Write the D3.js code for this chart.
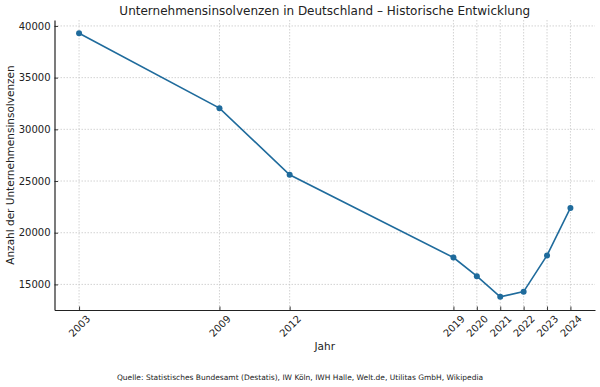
<!DOCTYPE html>
<html>
<head>
<meta charset="utf-8">
<script src="https://cdn.jsdelivr.net/npm/d3@7"></script>
<style>
  body { margin: 0; background: #fff; }
  svg text { font-family: "DejaVu Sans", sans-serif; fill: #222; }
  .grid line { stroke: #c8c8c8; stroke-width: 0.8; stroke-dasharray: 1.5,1.5; }
</style>
</head>
<body>
<svg id="chart" width="600" height="387"></svg>
<script>
/// data
var years = [2003, 2009, 2012, 2019, 2020, 2021, 2022, 2023, 2024];
var insolvencies = [39300, 32050, 25600, 17600, 15800, 13800, 14300, 17800, 22400];
var yTicks = [15000, 20000, 25000, 30000, 35000, 40000];

var titleText = "Unternehmensinsolvenzen in Deutschland \u2013 Historische Entwicklung",
    xLabel = "Jahr",
    yLabel = "Anzahl der Unternehmensinsolvenzen",
    sourceText = "Quelle: Statistisches Bundesamt (Destatis), IW K\u00f6ln, IWH Halle, Welt.de, Utilitas GmbH, Wikipedia";

/// layout
var margin = {top: 20, right: 5, bottom: 77, left: 54.5};
var W = 600, H = 387;
var w = W - margin.left - margin.right,
    h = H - margin.top - margin.bottom;

var svg = d3.select("#chart");
var g = svg.append("g")
           .attr("transform", "translate(" + margin.left + "," + margin.top + ")");

// matplotlib style 5% padding
var xPad = (d3.max(years) - d3.min(years)) * 0.05,
    yPad = (d3.max(insolvencies) - d3.min(insolvencies)) * 0.05;

var x = d3.scaleLinear()
          .domain([d3.min(years) - xPad, d3.max(years) + xPad])
          .range([0, w]);

var y = d3.scaleLinear()
          .domain([d3.min(insolvencies) - yPad, d3.max(insolvencies) + yPad])
          .range([h, 0]);

// grid
var grid = g.append("g").attr("class", "grid");
grid.selectAll()
    .data(yTicks)
    .enter()
    .append("line")
    .attr("x1", 0).attr("x2", w)
    .attr("y1", d => y(d)).attr("y2", d => y(d));
grid.selectAll()
    .data(years)
    .enter()
    .append("line")
    .attr("x1", d => x(d)).attr("x2", d => x(d))
    .attr("y1", 0).attr("y2", h);

// axes, ticks pointing inward
var xAxis = g.append("g")
             .attr("transform", "translate(0," + h + ")")
             .call(d3.axisBottom(x).tickValues(years).tickFormat(d3.format("d"))
                     .tickSizeInner(-3.5).tickSizeOuter(0));
xAxis.select(".domain").attr("stroke", "#222").attr("stroke-width", 1.2);
xAxis.selectAll(".tick line").attr("stroke", "#222").attr("stroke-width", 0.9);
xAxis.selectAll(".tick text")
     .attr("y", 0).attr("dy", null)
     .attr("text-anchor", "middle")
     .attr("dominant-baseline", "central")
     .attr("transform", "translate(0,16) rotate(-45)")
     .style("font-size", "10px");

var yAxis = g.append("g")
             .call(d3.axisLeft(y).tickValues(yTicks).tickFormat(d3.format("d"))
                     .tickSizeInner(-3.5).tickSizeOuter(0).tickPadding(4));
yAxis.select(".domain").attr("stroke", "#222").attr("stroke-width", 1.2);
yAxis.selectAll(".tick line").attr("stroke", "#222").attr("stroke-width", 0.9);
yAxis.selectAll(".tick text").attr("x", -4).style("font-size", "10px");

// series
var pts = years.map((d, i) => ({year: d, value: insolvencies[i]}));
var lineColor = "#1f6b9c";

g.append("path")
 .datum(pts)
 .attr("fill", "none")
 .attr("stroke", lineColor)
 .attr("stroke-width", 1.6)
 .attr("d", d3.line().x(d => x(d.year)).y(d => y(d.value)));

g.selectAll()
 .data(pts)
 .enter()
 .append("circle")
 .attr("cx", d => x(d.year))
 .attr("cy", d => y(d.value))
 .attr("r", 3)
 .attr("fill", lineColor);

// texts
svg.append("text")
   .attr("x", margin.left + w/2)
   .attr("y", 15)
   .attr("text-anchor", "middle")
   .style("font-size", "12px")
   .text(titleText);

svg.append("text")
   .attr("x", margin.left + w/2)
   .attr("y", 350)
   .attr("text-anchor", "middle")
   .style("font-size", "10.5px")
   .text(xLabel);

svg.append("text")
   .attr("transform", "translate(14," + (margin.top + h/2) + ") rotate(-90)")
   .attr("text-anchor", "middle")
   .style("font-size", "10.5px")
   .text(yLabel);

svg.append("text")
   .attr("x", W/2)
   .attr("y", 380)
   .attr("text-anchor", "middle")
   .style("font-size", "7.5px")
   .text(sourceText);

// safeguard font-family
svg.selectAll("text").style("font-family", "DejaVu Sans, sans-serif");
</script>
</body>
</html>
